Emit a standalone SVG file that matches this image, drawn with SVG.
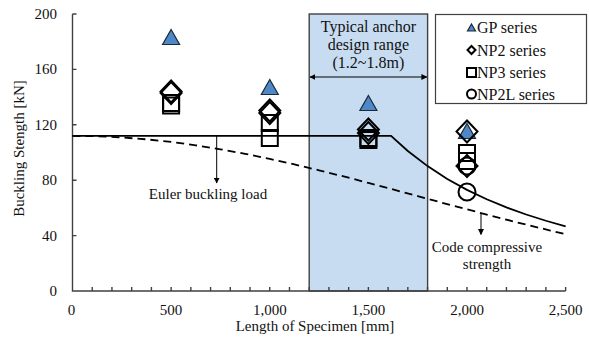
<svg xmlns="http://www.w3.org/2000/svg" width="589" height="339" viewBox="0 0 589 339">
<style>
text{font-family:"Liberation Serif","Times New Roman",serif;fill:#111}
.tk{font-size:15px}
.lbl{font-size:15px}
.axis{stroke:#404040;stroke-width:1.4;fill:none}
.mk{fill:none;stroke:#000;stroke-width:2}
.tri{fill:#4e88c7;stroke:#1a2a3a;stroke-width:1.2}
.curve{fill:none;stroke:#000;stroke-width:1.8}
.dash{fill:none;stroke:#000;stroke-width:1.8;stroke-dasharray:8 5}
.ptr{stroke:#000;stroke-width:1}
</style>
<defs>
<path id="tri" class="tri" d="M0,-8 L8.5,7 L-8.5,7 Z"/>
<path id="dia" class="mk" d="M0,-11 L10.5,0 L0,11 L-10.5,0 Z"/>
<rect id="sq" class="mk" x="-8" y="-8" width="16" height="16"/>
<circle id="cir" class="mk" r="8.5"/>
<marker id="ah" viewBox="0 0 10 10" refX="9" refY="5" markerWidth="6" markerHeight="6" orient="auto-start-reverse" markerUnits="userSpaceOnUse">
<path d="M0,0 L10,5 L0,10 Z" fill="#000"/>
</marker>
</defs>

<g id="range">
<rect x="309.2" y="14" width="118.4" height="277" fill="#c8dcf1" stroke="#404040" stroke-width="1.4"/>
<text x="368.4" y="32" font-size="16" text-anchor="middle">Typical anchor</text>
<text x="368.4" y="50" font-size="16" text-anchor="middle">design range</text>
<text x="368.4" y="68" font-size="16" text-anchor="middle">(1.2~1.8m)</text>
<line class="ptr" x1="310" y1="77" x2="426.8" y2="77" marker-start="url(#ah)" marker-end="url(#ah)"/>
</g>

<g id="axes">
<path class="axis" d="M72.5,14 V291 H565.6"/>
<path class="axis" stroke-width="1" d="M72.5,14 h4 M72.5,69.4 h4 M72.5,124.8 h4 M72.5,180.2 h4 M72.5,235.6 h4"/>
<path class="axis" stroke-width="1" d="M92.23,291v-4 M111.95,291v-4 M131.68,291v-4 M151.4,291v-4 M171.13,291v-4 M190.85,291v-4 M210.58,291v-4 M230.3,291v-4 M250.03,291v-4 M269.75,291v-4 M289.48,291v-4 M309.2,291v-4 M328.93,291v-4 M348.65,291v-4 M368.38,291v-4 M388.1,291v-4 M407.83,291v-4 M427.55,291v-4 M447.28,291v-4 M467,291v-4 M486.73,291v-4 M506.45,291v-4 M526.18,291v-4 M545.9,291v-4 M565.63,291v-4"/>
<g class="tk" text-anchor="end">
<text x="57" y="296">0</text>
<text x="57" y="240.6">40</text>
<text x="57" y="185.2">80</text>
<text x="57" y="129.8">120</text>
<text x="57" y="74.4">160</text>
<text x="57" y="19">200</text>
</g>
<g class="tk" text-anchor="middle">
<text x="71.5" y="315">0</text>
<text x="171.1" y="315">500</text>
<text x="269.8" y="315">1,000</text>
<text x="368.4" y="315">1,500</text>
<text x="467" y="315">2,000</text>
<text x="565.6" y="315">2,500</text>
</g>
<text class="lbl" x="315" y="331" text-anchor="middle">Length of Specimen [mm]</text>
<text class="lbl" transform="translate(24,148.5) rotate(-90)" text-anchor="middle">Buckling Stength [kN]</text>
</g>

<g id="curves">
<path class="curve" d="M72.5,135.88 H391.05 L407.83,151 L427.55,166.13 L447.28,178.93 L467,189.85 L486.73,199.26 L506.45,207.41 L526.18,214.52 L545.9,220.76 L565.63,226.27"/>
<path class="dash" d="M72.5,135.88 L97.16,136.27 L121.81,137.43 L146.47,139.34 L171.13,141.97 L195.78,145.31 L220.44,149.27 L245.09,153.85 L269.75,158.89 L294.41,164.4 L319.06,170.28 L343.72,176.47 L368.38,182.9 L393.03,189.45 L417.69,196.1 L442.34,202.76 L467,209.35 L491.66,215.84 L516.31,222.15 L540.97,228.26 L550.34,230.52 L565.63,234.23"/>
</g>

<g id="labels">
<line class="ptr" x1="216.7" y1="136" x2="216.7" y2="183" marker-end="url(#ah)"/>
<text class="lbl" x="208" y="199" text-anchor="middle">Euler buckling load</text>
<line class="ptr" x1="481" y1="213" x2="481" y2="234.5" marker-end="url(#ah)"/>
<text class="lbl" x="487" y="252" text-anchor="middle">Code compressive</text>
<text class="lbl" x="487" y="269" text-anchor="middle">strength</text>
</g>

<g id="data">
<use href="#tri" x="171.1" y="37.5"/>
<use href="#dia" x="171.1" y="91.5"/>
<use href="#dia" x="171.1" y="93"/>
<use href="#sq" x="171.1" y="103"/>
<use href="#sq" x="171.1" y="105.5"/>

<use href="#tri" x="269.8" y="87.5"/>
<use href="#dia" x="269.8" y="110.5"/>
<use href="#dia" x="269.8" y="113"/>
<use href="#sq" x="269.8" y="123"/>
<use href="#sq" x="269.8" y="138"/>

<use href="#tri" x="368.4" y="103.5"/>
<use href="#dia" x="368.4" y="129.5"/>
<use href="#dia" x="368.4" y="133"/>
<use href="#sq" x="368.4" y="138"/>
<use href="#sq" x="368.4" y="140"/>

<use href="#tri" x="467" y="131.5"/>
<use href="#dia" x="467" y="131.5"/>
<use href="#sq" x="467" y="153"/>
<use href="#sq" x="467" y="161"/>
<use href="#dia" x="467" y="166"/>
<use href="#cir" x="467" y="166"/>
<use href="#cir" x="467" y="192"/>
</g>

<g id="legend">
<rect x="435.5" y="14.5" width="151" height="89" fill="#fff" stroke="#404040" stroke-width="1.2"/>
<path class="tri" d="M471.5,24 L475.5,31 L467.5,31 Z"/>
<path class="mk" stroke-width="1.7" d="M471.5,46 L475.5,50 L471.5,54 L467.5,50 Z"/>
<rect class="mk" stroke-width="1.7" x="467" y="68" width="9" height="9"/>
<circle class="mk" stroke-width="1.7" cx="471.5" cy="94" r="4.5"/>
<g font-size="16">
<text x="477" y="33">GP series</text>
<text x="477" y="55.5">NP2 series</text>
<text x="477" y="77.5">NP3 series</text>
<text x="477" y="99.5">NP2L series</text>
</g>
</g>
</svg>
